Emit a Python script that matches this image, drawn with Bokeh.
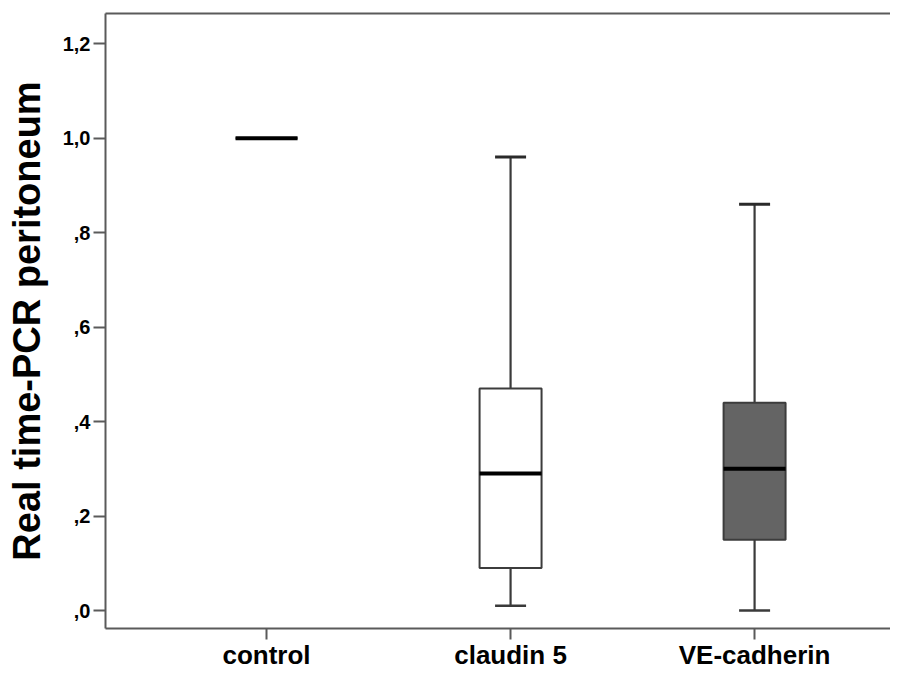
from bokeh.plotting import figure
from bokeh.models import Range1d, FixedTicker, ColumnDataSource, LinearAxis
from bokeh.embed import file_html
from bokeh.resources import INLINE

categories = ["control", "claudin 5", "VE-cadherin"]
lower = [1.0, 0.01, 0.00]
q1 = [1.0, 0.09, 0.15]
median = [1.0, 0.29, 0.30]
q3 = [1.0, 0.47, 0.44]
upper = [1.0, 0.96, 0.86]
y_ticks = [0.0, 0.2, 0.4, 0.6, 0.8, 1.0, 1.2]
y_tick_labels = [",0", ",2", ",4", ",6", ",8", "1,0", "1,2"]
box_fill = ["white", "white", "#646464"]

xpos = [i + 1 for i in range(len(categories))]
src = ColumnDataSource(dict(x=xpos, lower=lower, q1=q1, median=median, q3=q3,
                            upper=upper, fill=box_fill))
keep = [i for i in range(len(categories)) if upper[i] > lower[i]]
wsrc = ColumnDataSource(dict(x=[xpos[i] for i in keep],
                             lower=[lower[i] for i in keep],
                             upper=[upper[i] for i in keep],
                             q1=[q1[i] for i in keep],
                             q3=[q3[i] for i in keep]))

FONT = "Liberation Sans"
AX = "#5a5a5a"

p = figure(width=890, height=672, output_backend="svg", toolbar_location=None,
           x_range=Range1d(0.34, 3.557), y_range=Range1d(-0.038, 1.264),
           min_border_left=105, min_border_right=0, min_border_top=13, min_border_bottom=43)
p.background_fill_color = "white"
p.border_fill_color = "white"
p.outline_line_color = None
p.xgrid.visible = False
p.ygrid.visible = False

xax = p.below[0]
yax = p.left[0]

# whiskers
p.segment(x0="x", y0="q3", x1="x", y1="upper", source=wsrc, line_color="#3a3a3a", line_width=2.2)
p.segment(x0="x", y0="lower", x1="x", y1="q1", source=wsrc, line_color="#3a3a3a", line_width=2.2)
p.dash(x="x", y="upper", source=wsrc, size=31, line_color="#2a2a2a", line_width=3)
p.dash(x="x", y="lower", source=wsrc, size=31, line_color="#3a3a3a", line_width=2.5)

# boxes
p.vbar(x="x", bottom="q1", top="q3", width=0.254, source=src,
       fill_color="fill", line_color="#3c3c3c", line_width=2)
# medians
p.dash(x="x", y="median", source=src, size=62, line_color="black", line_width=4)

# axes
yax.ticker = FixedTicker(ticks=y_ticks)
yax.major_label_overrides = {t: l for t, l in zip(y_ticks, y_tick_labels)}
yax.axis_label = "Real time-PCR peritoneum"
yax.axis_label_text_font = FONT
yax.axis_label_text_font_style = "bold"
yax.axis_label_text_font_size = "38px"
yax.axis_label_text_color = "black"
yax.axis_label_standoff = 12
yax.major_label_text_font = FONT
yax.major_label_text_font_style = "bold"
yax.major_label_text_font_size = "20px"
yax.major_label_text_color = "black"
yax.major_label_standoff = 3
yax.major_tick_out = 12
yax.major_tick_in = 0
yax.minor_tick_line_color = None

xax.ticker = FixedTicker(ticks=xpos)
xax.major_label_overrides = {x: c for x, c in zip(xpos, categories)}
xax.major_label_text_font = FONT
xax.major_label_text_font_style = "bold"
xax.major_label_text_font_size = "26px"
xax.major_label_text_color = "black"
xax.major_label_standoff = 0
xax.major_tick_out = 11
xax.major_tick_in = 0
xax.minor_tick_line_color = None

for ax in (xax, yax):
    ax.axis_line_color = AX
    ax.axis_line_width = 2
    ax.major_tick_line_color = AX
    ax.major_tick_line_width = 2

# top frame line as an empty axis
top = LinearAxis(ticker=FixedTicker(ticks=[]), axis_line_color=AX, axis_line_width=2,
                 major_tick_line_color=None, minor_tick_line_color=None,
                 major_tick_out=0, major_tick_in=0, major_label_standoff=0,
                 major_label_text_font_size="0px")
p.add_layout(top, "above")

open("out.html", "w").write(file_html(p, INLINE))
